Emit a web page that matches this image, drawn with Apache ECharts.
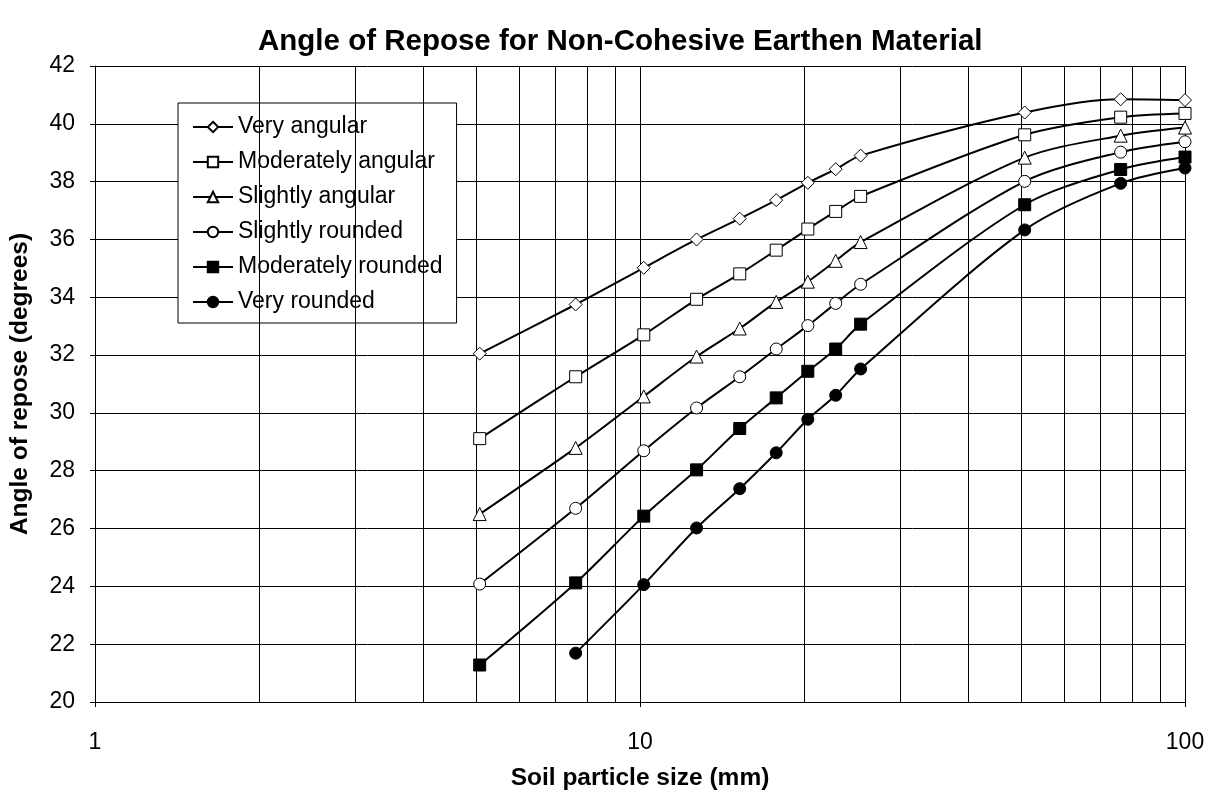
<!DOCTYPE html>
<html>
<head>
<meta charset="utf-8">
<script src="https://cdn.jsdelivr.net/npm/echarts@6/dist/echarts.min.js"></script>
<style>
  html, body { margin: 0; padding: 0; background: #fff; }
  #chart { width: 1215px; height: 799px; }
</style>
</head>
<body>
<div id="chart"></div>
<script>
// Particle sizes (mm) at which the angle of repose is tabulated
const sizes = [5.08, 7.62, 10.16, 12.7, 15.24, 17.78, 20.32, 22.86, 25.4, 50.8, 76.2, 100];

// Angle of repose (degrees) per particle shape
const veryAngular       = [32.05, 33.75, 35.02, 36.00, 36.72, 37.36, 37.96, 38.43, 38.90, 40.39, 40.85, 40.82];
const moderatelyAngular = [29.11, 31.25, 32.70, 33.93, 34.81, 35.63, 36.36, 36.97, 37.49, 39.62, 40.23, 40.36];
const slightlyAngular   = [26.50, 28.79, 30.57, 31.95, 32.92, 33.84, 34.54, 35.26, 35.91, 38.83, 39.59, 39.87];
const slightlyRounded   = [24.08, 26.70, 28.69, 30.17, 31.25, 32.21, 33.02, 33.79, 34.45, 38.01, 39.02, 39.38];
const moderatelyRounded = [21.28, 24.12, 26.43, 28.03, 29.46, 30.52, 31.44, 32.21, 33.07, 37.20, 38.42, 38.85];
const veryRounded       = [null,  21.69, 24.06, 26.02, 27.38, 28.62, 29.78, 30.61, 31.52, 36.33, 37.94, 38.47];

const seriesNames = ['Very angular', 'Moderately angular', 'Slightly angular',
                     'Slightly rounded', 'Moderately rounded', 'Very rounded'];
const seriesValues = [veryAngular, moderatelyAngular, slightlyAngular,
                      slightlyRounded, moderatelyRounded, veryRounded];

// Minor vertical gridlines of the log axis
const minorGridX = [2, 3, 4, 5, 6, 7, 8, 9, 20, 30, 40, 50, 60, 70, 80, 90];

const markerStyles = [
  { symbol: 'diamond',  size: 13, fill: '#fff' },
  { symbol: 'rect',     size: 12, fill: '#fff' },
  { symbol: 'triangle', size: 13, fill: '#fff' },
  { symbol: 'circle',   size: 12, fill: '#fff' },
  { symbol: 'rect',     size: 12, fill: '#000' },
  { symbol: 'circle',   size: 12, fill: '#000' }
];

const FONT = 'Arial, "Liberation Sans", Helvetica, sans-serif';

const lineSeries = seriesNames.map((name, i) => {
  const pts = [];
  sizes.forEach((x, k) => {
    const v = seriesValues[i][k];
    if (v !== null) pts.push([x, v]);
  });
  const m = markerStyles[i];
  return {
    name: name,
    type: 'line',
    data: pts,
    smooth: 0.3,
    symbol: m.symbol,
    symbolSize: m.size,
    showAllSymbol: true,
    z: 5,
    lineStyle: { color: '#000', width: 2 },
    itemStyle: { color: m.fill, borderColor: '#000', borderWidth: 1 },
    emphasis: { disabled: true }
  };
});

// Carrier series for the minor gridlines
lineSeries.unshift({
  name: '_grid',
  type: 'line',
  data: [],
  silent: true,
  z: 1,
  markLine: {
    silent: true,
    symbol: ['none', 'none'],
    label: { show: false },
    lineStyle: { color: '#000', width: 1, type: 'solid' },
    data: minorGridX.map(x => ({ xAxis: x }))
  }
});

const chart = echarts.init(document.getElementById('chart'), null, { renderer: 'canvas' });

chart.setOption({
  backgroundColor: '#fff',
  animation: false,
  title: {
    text: 'Angle of Repose for Non-Cohesive Earthen Material',
    left: 253,
    top: 22,
    textStyle: { fontFamily: FONT, fontSize: 29.5, fontWeight: 'bold', color: '#000' }
  },
  grid: { left: 95, right: 30, top: 66, bottom: 97, containLabel: false },
  legend: {
    orient: 'vertical',
    left: 178,
    top: 103,
    data: seriesNames,
    backgroundColor: '#fff',
    borderColor: '#000',
    borderWidth: 1,
    borderRadius: 0,
    padding: [12, 14, 9, 14],
    itemWidth: 40,
    itemHeight: 13,
    itemGap: 11,
    selectedMode: false,
    textStyle: { fontFamily: FONT, fontSize: 23, color: '#000', lineHeight: 24 }
  },
  xAxis: {
    type: 'log',
    logBase: 10,
    min: 1,
    max: 100,
    name: 'Soil particle size (mm)',
    nameLocation: 'middle',
    nameGap: 64,
    nameTextStyle: { fontFamily: FONT, fontSize: 24.5, fontWeight: 'bold', color: '#000' },
    axisLine: { show: true, lineStyle: { color: '#000', width: 1 } },
    axisTick: { show: true, inside: false, length: 5, lineStyle: { color: '#000' } },
    axisLabel: { fontFamily: FONT, fontSize: 23, color: '#000', margin: 29 },
    splitLine: { show: true, lineStyle: { color: '#000', width: 1 } },
    minorTick: { show: false },
    minorSplitLine: { show: false }
  },
  yAxis: {
    type: 'value',
    min: 20,
    max: 42,
    interval: 2,
    name: 'Angle of repose (degrees)',
    nameLocation: 'middle',
    nameRotate: 90,
    nameGap: 62,
    nameTextStyle: { fontFamily: FONT, fontSize: 24.5, fontWeight: 'bold', color: '#000' },
    axisLine: { show: true, lineStyle: { color: '#000', width: 1 } },
    axisTick: { show: true, inside: false, length: 5, lineStyle: { color: '#000' } },
    axisLabel: { fontFamily: FONT, fontSize: 23, color: '#000', margin: 20 },
    splitLine: { show: true, lineStyle: { color: '#000', width: 1 } }
  },
  series: lineSeries
});
</script>
</body>
</html>
